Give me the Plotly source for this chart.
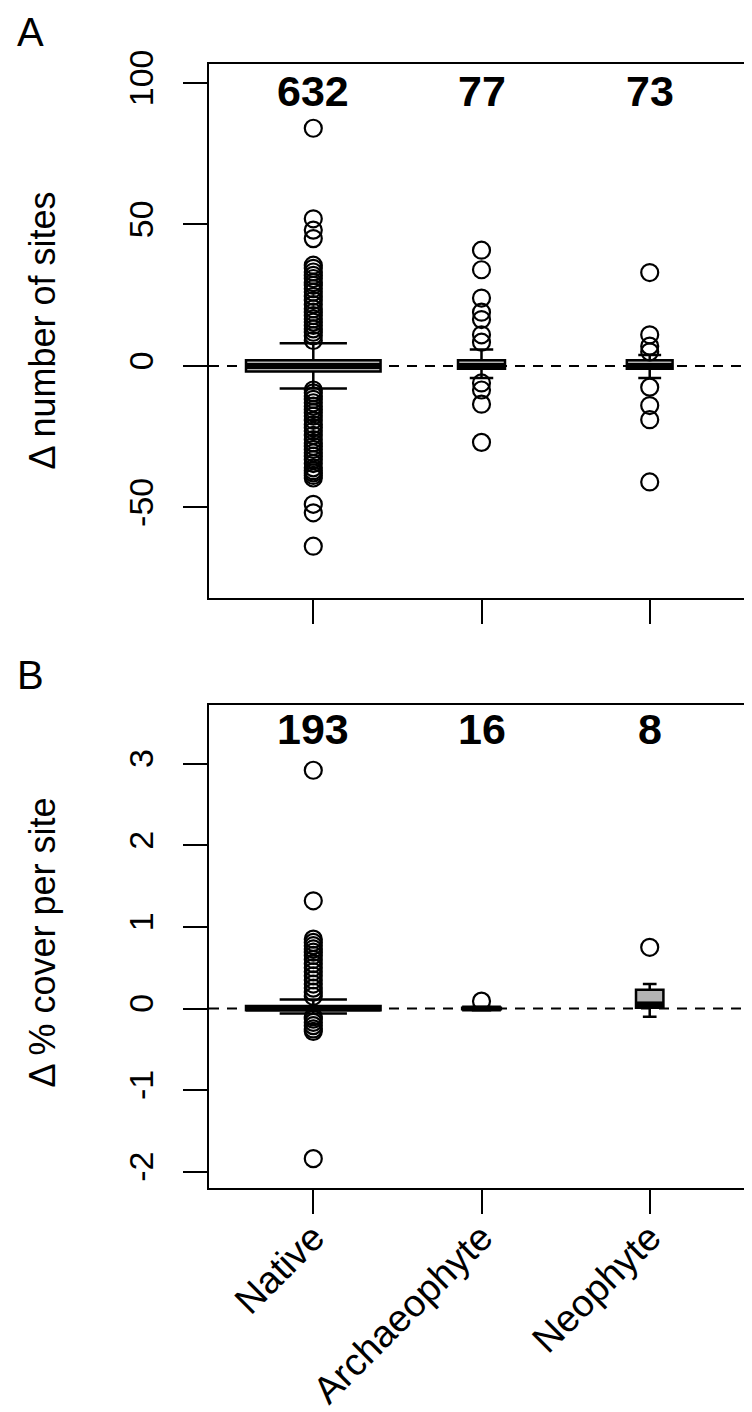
import math
import plotly.graph_objects as go

categories = ["Native", "Archaeophyte", "Neophyte"]
positions = [1, 2, 3]

# Panel A: change in number of sites
a_counts = [632, 77, 73]
a_q1 = [-2, -1, -1]
a_median = [0, 0, 0]
a_q3 = [2, 2, 2]
a_lower = [-8, -4.3, -4.3]
a_upper = [8, 5.8, 3.9]
a_out_native = [84, 52, 48, 45, 35.6, 34.5, 33.2, 32, 30.9, 29.5, 28.5, 27.3, 26.1, 24.6, 23.2, 21.7,
                20.2, 19, 17.8, 16.6, 15.5, 14.3, 13.1, 11.9, 10.7, 9.0,
                -8.5, -9.5, -10.6, -11.8, -13, -14.2, -15.4, -16.5, -17.7, -19.2, -20.7, -21.8, -23,
                -24.5, -26, -27.2, -28.4, -29.5, -30.7, -31.9, -33.1, -34.5, -36, -37, -37.8, -38.7,
                -39.6, -48.9, -51.9, -63.7]
a_out_archaeo = [40.9, 34, 24, 19, 16.4, 11, 8.4, -6, -8.5, -13.5, -27]
a_out_neo = [33, 11, 7, 5, -7.5, -14, -19, -41]
a_ticks = [-50, 0, 50, 100]
a_ticklabels = ["-50", "0", "50", "100"]

# Panel B: change in % cover per site
b_counts = [193, 16, 8]
b_q1 = [-0.02, -0.01, 0.01]
b_median = [0, 0, 0.05]
b_q3 = [0.03, 0.01, 0.23]
b_lower = [-0.06, -0.02, -0.10]
b_upper = [0.11, 0.02, 0.30]
b_out_native = [2.92, 1.32, 0.85, 0.81, 0.77, 0.73, 0.69, 0.65, 0.6, 0.55, 0.5, 0.45, 0.4, 0.35,
                0.3, 0.25, 0.2, 0.15, -0.1, -0.13, -0.17, -0.21, -0.25, -0.28, -1.84]
b_out_archaeo = [0.09]
b_out_neo = [0.75]
b_ticks = [-2, -1, 0, 1, 2, 3]
b_ticklabels = ["-2", "-1", "0", "1", "2", "3"]

FONT = "Liberation Sans, Arial, Helvetica, sans-serif"
BOX_FILL = "#b3b3b3"

W, H = 752, 1412
L, R, T, B = 201, 4, 56, 232
PW, PH = W - L - R, H - T - B


def px_x(px):
    return (px - L) / PW


def px_y(py):
    return (H - B - py) / PH


fig = go.Figure()


def add_panel(counts, q1, med, q3, lo, up, outs, xa, ya):
    maxs = max(math.sqrt(c) for c in counts)
    widths = [0.8 * math.sqrt(c) / maxs for c in counts]
    for i, p in enumerate(positions):
        fig.add_trace(go.Box(
            x=[p], q1=[q1[i]], median=[med[i]], q3=[q3[i]],
            lowerfence=[lo[i]], upperfence=[up[i]],
            width=widths[i], whiskerwidth=0.5, boxpoints=False,
            fillcolor=BOX_FILL, line=dict(color="black", width=2.5),
            xaxis=xa, yaxis=ya, showlegend=False, hoverinfo="skip"))
        fig.add_trace(go.Scatter(
            x=[p - widths[i] / 2, p + widths[i] / 2], y=[med[i], med[i]],
            mode="lines", line=dict(color="black", width=6),
            xaxis=xa, yaxis=ya, showlegend=False, hoverinfo="skip"))
        fig.add_trace(go.Scatter(
            x=[p] * len(outs[i]), y=outs[i], mode="markers",
            marker=dict(symbol="circle-open", size=17, color="black",
                        line=dict(color="black", width=2.2)),
            xaxis=xa, yaxis=ya, showlegend=False, hoverinfo="skip"))


add_panel(a_counts, a_q1, a_median, a_q3, a_lower, a_upper,
          [a_out_native, a_out_archaeo, a_out_neo], "x", "y")
add_panel(b_counts, b_q1, b_median, b_q3, b_lower, b_upper,
          [b_out_native, b_out_archaeo, b_out_neo], "x2", "y2")

# dashed zero lines
for xr, yr in [("x domain", "y"), ("x2 domain", "y2")]:
    fig.add_shape(type="line", xref=xr, yref=yr, x0=0, x1=1, y0=0, y1=0,
                  line=dict(color="black", width=2, dash="10px,8px"), layer="below")

ann = []
for i, p in enumerate(positions):
    ann.append(dict(x=p, y=97, xref="x", yref="y", text="<b>%d</b>" % a_counts[i], showarrow=False,
                    font=dict(family=FONT, size=43, color="black"), xanchor="center", yanchor="middle"))
    ann.append(dict(x=p, y=3.42, xref="x2", yref="y2", text="<b>%d</b>" % b_counts[i], showarrow=False,
                    font=dict(family=FONT, size=43, color="black"), xanchor="center", yanchor="middle"))

ann.append(dict(x=px_x(33), y=px_y(323), xref="paper", yref="paper", text="Δ number of sites",
                textangle=-90, showarrow=False, font=dict(family=FONT, size=36, color="black"),
                xanchor="center", yanchor="middle"))
ann.append(dict(x=px_x(33), y=px_y(935), xref="paper", yref="paper", text="Δ % cover per site",
                textangle=-90, showarrow=False, font=dict(family=FONT, size=36, color="black"),
                xanchor="center", yanchor="middle"))
ann.append(dict(x=px_x(22), y=1.0, yshift=T, xref="paper", yref="paper", text="A",
                showarrow=False, font=dict(family=FONT, size=40, color="black"),
                xanchor="center", yanchor="top"))
ann.append(dict(x=px_x(22), y=px_y(667), xref="paper", yref="paper", text="B",
                showarrow=False, font=dict(family=FONT, size=40, color="black"),
                xanchor="center", yanchor="middle"))

axis_common = dict(showline=True, linecolor="black", linewidth=2, mirror=True,
                   ticks="outside", ticklen=24, tickwidth=2, tickcolor="black",
                   showgrid=False, zeroline=False,
                   tickfont=dict(family=FONT, size=34, color="black"))

dom_a = [px_y(590), 1.0]
dom_b = [0.0, px_y(697)]

fig.update_layout(
    width=W, height=H,
    margin=dict(l=L, r=R, t=T, b=B),
    paper_bgcolor="white", plot_bgcolor="white",
    showlegend=False,
    annotations=ann,
    xaxis=dict(**axis_common, anchor="y", range=[0.38, 3.62], tickvals=positions,
               showticklabels=False),
    xaxis2=dict(**{**axis_common, "tickfont": dict(family=FONT, size=38, color="black")},
                anchor="y2", range=[0.38, 3.62], tickvals=positions,
                ticktext=categories, tickangle=-45, ticklabelstandoff=-14),
    yaxis=dict(**axis_common, domain=dom_a, range=[-82, 106.7], tickvals=a_ticks,
               ticktext=a_ticklabels, tickangle=-90, ticklabelstandoff=16),
    yaxis2=dict(**axis_common, domain=dom_b, range=[-2.2, 3.72], tickvals=b_ticks,
                ticktext=b_ticklabels, tickangle=-90, ticklabelstandoff=16),
)

fig.write_html("out.html")
